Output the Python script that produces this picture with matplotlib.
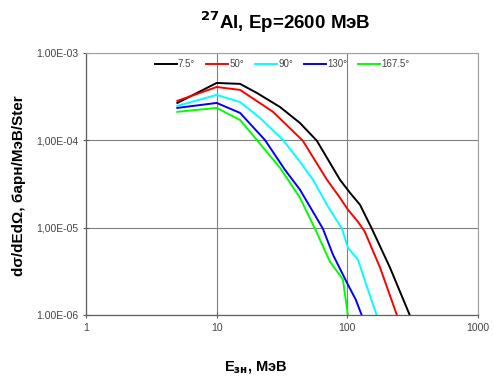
import matplotlib
matplotlib.use("Agg")
import matplotlib.pyplot as plt

plt.rcParams['font.family'] = ['Liberation Sans', 'DejaVu Sans']

# Data (energy in MeV, cross section in barn/MeV/sr)
e_black = [5, 10, 15.1, 20.3, 30.5, 43.4, 58.5, 87.8, 104.7, 125, 154, 212, 301, 320]
v_black = [2.68e-4, 4.54e-4, 4.43e-4, 3.49e-4, 2.41e-4, 1.58e-4, 9.87e-5, 3.54e-5, 2.51e-5,
           1.83e-5, 9.74e-6, 3.49e-6, 9.9e-7, 8.0e-7]

e_red = [5, 10, 15.1, 27, 45.7, 69.8, 87.8, 101, 120.5, 136, 178, 240, 255]
v_red = [2.83e-4, 4.08e-4, 3.78e-4, 2.12e-4, 9.87e-5, 3.54e-5, 2.2e-5, 1.61e-5, 1.17e-5,
         9.0e-6, 3.49e-6, 9.9e-7, 8.0e-7]

e_cyan = [5, 10, 15.1, 21.4, 32.2, 43.4, 54.6, 69.8, 91, 101, 120.5, 141, 168, 178]
v_cyan = [2.48e-4, 3.31e-4, 2.75e-4, 1.81e-4, 1.01e-4, 5.68e-5, 3.54e-5, 1.83e-5, 9.74e-6,
          5.9e-6, 4.31e-6, 2.12e-6, 9.9e-7, 8.0e-7]

e_blue = [5, 10, 15.1, 23.4, 33.3, 43.4, 65, 77.6, 101, 116, 129, 134]
v_blue = [2.35e-4, 2.68e-4, 2.06e-4, 1.01e-4, 4.6e-5, 2.72e-5, 9.74e-6, 4.91e-6, 2.23e-6,
          1.5e-6, 9.9e-7, 8.0e-7]

e_green = [5, 10, 15.1, 20.3, 30.5, 43.4, 56.5, 73.6, 92.5, 101, 103]
v_green = [2.12e-4, 2.35e-4, 1.71e-4, 1.01e-4, 4.85e-5, 2.2e-5, 9.74e-6, 4.08e-6, 2.55e-6,
           9.9e-7, 8.0e-7]

series = [
    ("7.5°", e_black, v_black, "#000000"),
    ("50°", e_red, v_red, "#ff0000"),
    ("90°", e_cyan, v_cyan, "#00ffff"),
    ("130°", e_blue, v_blue, "#0000ff"),
    ("167.5°", e_green, v_green, "#00ff00"),
]

x_ticks = [1, 10, 100, 1000]
x_ticklabels = ["1", "10", "100", "1000"]
y_ticks = [1e-6, 1e-5, 1e-4, 1e-3]
y_ticklabels = ["1.00E-06", "1,00E-05", "1,00E-04", "1.00E-03"]

fig = plt.figure(figsize=(4.94, 3.77), dpi=100)
W, H = 494, 377
left, right, top, bottom = 86, 478, 53, 315
ax = fig.add_axes([left / W, 1 - bottom / H, (right - left) / W, (bottom - top) / H])

for label, e, v, c in series:
    ax.plot(e, v, color=c, lw=1.4, label=label)

ax.set_xscale('log')
ax.set_yscale('log')
ax.set_xlim(1, 1000)
ax.set_ylim(1e-6, 1e-3)
ax.set_xticks(x_ticks)
ax.set_xticklabels(x_ticklabels)
ax.set_yticks(y_ticks)
ax.set_yticklabels(y_ticklabels)
ax.minorticks_off()
ax.tick_params(axis='both', which='major', direction='inout', length=5, width=0.8,
               color='#606060', labelsize=7.5, labelcolor='#444444', pad=3)
ax.grid(True, which='major', color='#808080', lw=0.8)

for s in ['left', 'bottom']:
    ax.spines[s].set_color('#606060')
    ax.spines[s].set_linewidth(0.9)
for s in ['top', 'right']:
    ax.spines[s].set_color('#a0a0a0')
    ax.spines[s].set_linewidth(0.8)

leg = ax.legend(loc='upper center', bbox_to_anchor=(0.5, 1.0), ncol=5, frameon=False,
                fontsize=7, handlelength=2.3, handletextpad=0.1, columnspacing=1.1,
                borderaxespad=0.25)
for t in leg.get_texts():
    t.set_color('#444444')

fig.text(285 / W, 1 - 22 / H, r"$^{\mathbf{27}}$Al, Ep=2600 МэВ", ha='center', va='center',
         fontsize=13.5, fontweight='bold')
fig.text(19 / W, 1 - 186 / H, "dσ/dEdΩ, барн/МэВ/Ster", ha='center', va='center',
         rotation=90, fontsize=11, fontweight='bold')
fig.text(256 / W, 1 - 368 / H, r"E$_{\mathbf{зн}}$, МэВ", ha='center', va='center',
         fontsize=10.5, fontweight='bold')

fig.savefig("out.png", dpi=100)
